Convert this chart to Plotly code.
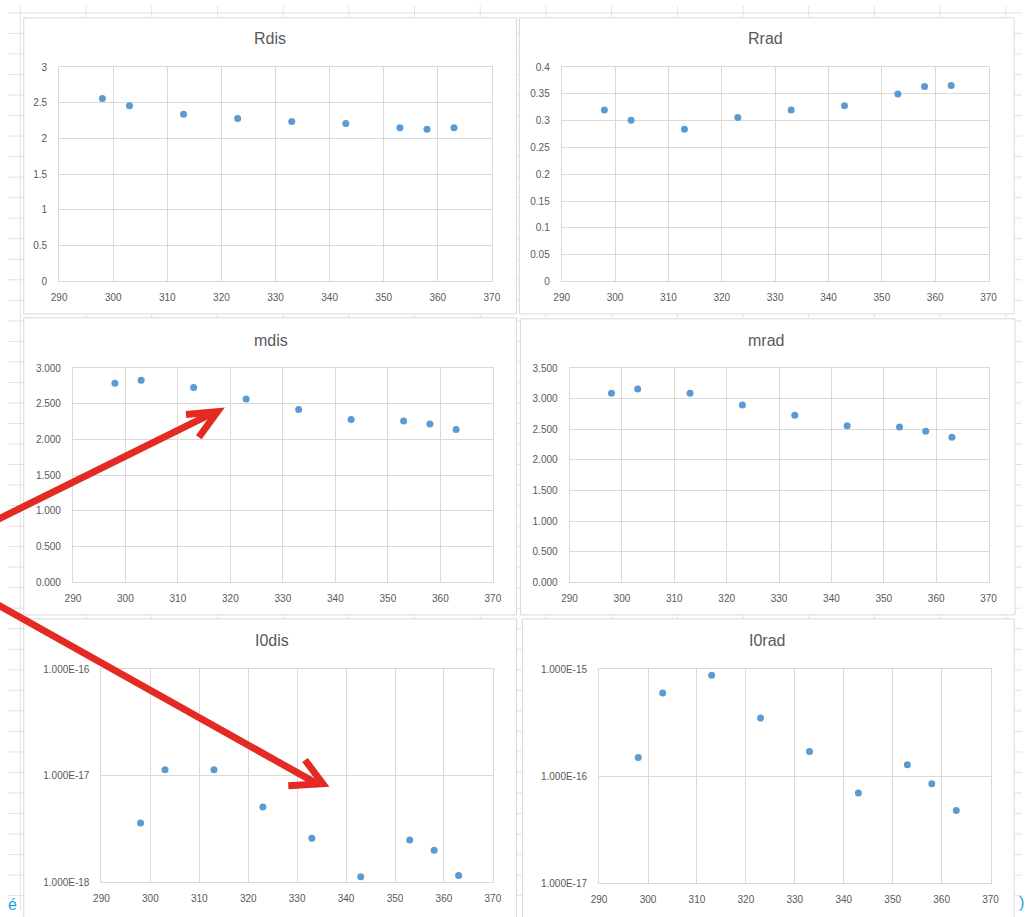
import plotly.graph_objects as go

W, H = 1031, 917

# ---------------- data ----------------
temperature = [298, 303, 313, 323, 333, 343, 353, 358, 363]

Rdis = [2.56, 2.46, 2.34, 2.28, 2.24, 2.21, 2.15, 2.13, 2.15]
Rrad = [0.320, 0.301, 0.284, 0.306, 0.320, 0.328, 0.350, 0.364, 0.366]
mdis = [2.79, 2.83, 2.73, 2.57, 2.42, 2.28, 2.26, 2.22, 2.14]
mrad = [3.09, 3.16, 3.09, 2.90, 2.73, 2.56, 2.54, 2.47, 2.37]
I0dis = [3.6e-18, 1.14e-17, 1.14e-17, 5.1e-18, 2.6e-18, 1.13e-18, 2.5e-18, 2.0e-18, 1.16e-18]
I0rad = [1.5e-16, 6.0e-16, 8.8e-16, 3.5e-16, 1.7e-16, 7.0e-17, 1.28e-16, 8.5e-17, 4.8e-17]

titles = ["Rdis", "Rrad", "mdis", "mrad", "I0dis", "I0rad"]
series = [Rdis, Rrad, mdis, mrad, I0dis, I0rad]

x_ticks = [290, 300, 310, 320, 330, 340, 350, 360, 370]

y_tickvals = [
    [0, 0.5, 1, 1.5, 2, 2.5, 3],
    [0, 0.05, 0.1, 0.15, 0.2, 0.25, 0.3, 0.35, 0.4],
    [0, 0.5, 1, 1.5, 2, 2.5, 3],
    [0, 0.5, 1, 1.5, 2, 2.5, 3, 3.5],
    [1e-18, 1e-17, 1e-16],
    [1e-17, 1e-16, 1e-15],
]
y_ticktext = [
    ["0", "0.5", "1", "1.5", "2", "2.5", "3"],
    ["0", "0.05", "0.1", "0.15", "0.2", "0.25", "0.3", "0.35", "0.4"],
    ["0.000", "0.500", "1.000", "1.500", "2.000", "2.500", "3.000"],
    ["0.000", "0.500", "1.000", "1.500", "2.000", "2.500", "3.000", "3.500"],
    ["1.000E-18", "1.000E-17", "1.000E-16"],
    ["1.000E-17", "1.000E-16", "1.000E-15"],
]
y_ranges = [[0, 3], [0, 0.4], [0, 3], [0, 3.5], [-18, -16], [-17, -15]]
y_log = [False, False, False, False, True, True]

# ---------------- layout geometry (pixels) ----------------
plot_boxes = [  # x0, x1, y0(top), y1(bottom)
    (52, 492, 62, 279),
    (563, 997, 62, 279),
    (66, 493, 367, 584),
    (571, 997, 367, 584),
    (95, 493, 672, 888),
    (601, 999, 672, 889),
]
panel_boxes = [
    (16, 517, 12, 312),
    (520, 1023, 12, 312),
    (16, 517, 316, 617),
    (521, 1024, 317, 617),
    (16, 517, 621, 930),
    (523, 1023, 621, 930),
]
title_pos = [(266, 33), (770, 33), (267, 339), (771, 339), (268, 643), (772, 643)]


def px(x):
    return x / W


def py(y):
    return 1 - y / H


GRID = "#d9d9d9"
TXT = "#595959"
BLUE = "#5B9BD5"
RED = "#E32B24"

fig = go.Figure()
layout = dict(
    width=W, height=H, margin=dict(l=0, r=0, t=0, b=0),
    paper_bgcolor="white", plot_bgcolor="rgba(0,0,0,0)",
    showlegend=False, font=dict(family="Liberation Sans, Arial", color=TXT),
)

for i in range(6):
    n = "" if i == 0 else str(i + 1)
    fig.add_trace(go.Scatter(
        x=temperature, y=series[i], mode="markers",
        marker=dict(color=BLUE, size=7),
        xaxis="x" + n, yaxis="y" + n,
    ))
    x0, x1, y0, y1 = plot_boxes[i]
    layout["xaxis" + n] = dict(
        domain=[px(x0), px(x1)], anchor="y" + n, range=[290, 370],
        tickvals=x_ticks, showgrid=True, gridcolor=GRID, gridwidth=1,
        showline=True, linecolor=GRID, linewidth=1, mirror=True,
        zeroline=False, ticks="", ticklabelstandoff=7,
        tickfont=dict(size=10, color=TXT),
    )
    ya = dict(
        domain=[py(y1), py(y0)], anchor="x" + n, range=y_ranges[i],
        tickvals=y_tickvals[i], ticktext=y_ticktext[i],
        showgrid=True, gridcolor=GRID, gridwidth=1,
        showline=True, linecolor=GRID, linewidth=1, mirror=True,
        zeroline=False, ticks="", ticklabelstandoff=9,
        tickfont=dict(size=10, color=TXT),
    )
    if y_log[i]:
        ya["type"] = "log"
    layout["yaxis" + n] = ya

shapes = []
# spreadsheet background grid
col = 12.5
while col < W:
    shapes.append(dict(type="line", xref="paper", yref="paper", x0=px(col), x1=px(col),
                       y0=0, y1=1, line=dict(color="#e3e3e3", width=1), layer="below"))
    col += 66.8
row = 7
while row < H:
    shapes.append(dict(type="line", xref="paper", yref="paper", x0=0, x1=1,
                       y0=py(row), y1=py(row), line=dict(color="#e3e3e3", width=1), layer="below"))
    row += 20.8
# chart panels
for (a, b, c, d) in panel_boxes:
    shapes.append(dict(type="rect", xref="paper", yref="paper", x0=px(a), x1=px(b),
                       y0=py(d), y1=py(c), fillcolor="white", line=dict(color=GRID, width=1),
                       layer="below"))

# red arrows (annotation overlay)
arrows = [
    ((-10, 520), (213, 411), (181, 414), (194, 437)),
    ((-10, 607), (320, 788), (285, 790), (302, 764)),
]
for start, tip, arm1, arm2 in arrows:
    shapes.append(dict(type="line", xref="paper", yref="paper",
                       x0=px(start[0]), y0=py(start[1]), x1=px(tip[0] - 4), y1=py(tip[1] + 1),
                       line=dict(color=RED, width=7), layer="above"))
    path = "M {} {} L {} {} L {} {}".format(
        px(arm1[0]), py(arm1[1]), px(tip[0]), py(tip[1]), px(arm2[0]), py(arm2[1]))
    shapes.append(dict(type="path", xref="paper", yref="paper", path=path,
                       line=dict(color=RED, width=7), layer="above"))

layout["shapes"] = shapes

annotations = []
for t, (tx, ty) in zip(titles, title_pos):
    annotations.append(dict(text=t, xref="paper", yref="paper", x=px(tx), y=py(ty),
                            showarrow=False, xanchor="center", yanchor="middle",
                            font=dict(size=16, color=TXT)))
annotations.append(dict(text="é", xref="paper", yref="paper", x=px(-2), y=py(910),
                        showarrow=False, xanchor="left", yanchor="middle",
                        font=dict(size=16, color="#1a9be0")))
annotations.append(dict(text=")", xref="paper", yref="paper", x=px(1026), y=py(908),
                        showarrow=False, xanchor="left", yanchor="middle",
                        font=dict(size=16, color="#1a9be0")))
layout["annotations"] = annotations

fig.update_layout(**layout)
fig.write_html("out.html")
